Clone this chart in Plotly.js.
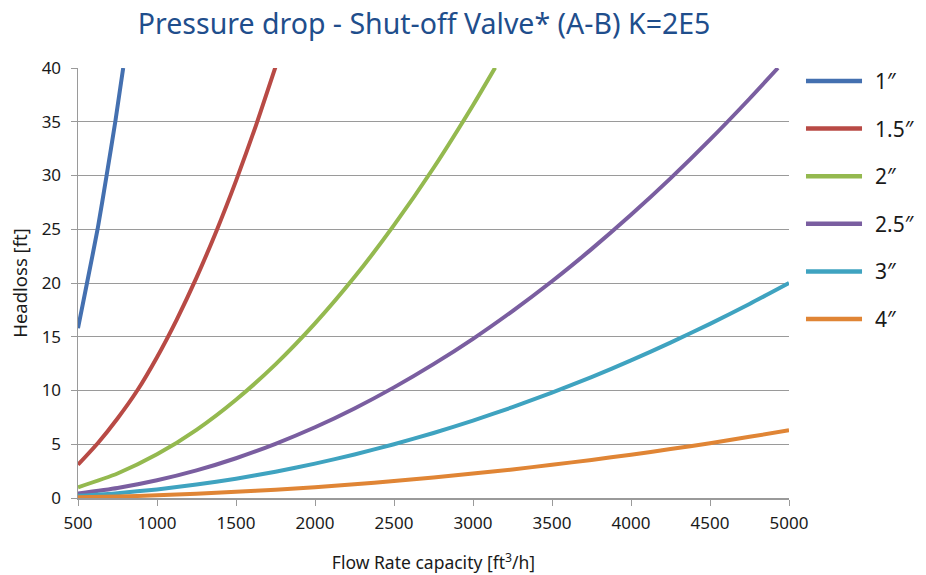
<!DOCTYPE html>
<html>
<head>
<meta charset="utf-8">
<script src="https://cdn.plot.ly/plotly-3.0.1.min.js"></script>
<style>html,body{margin:0;padding:0;background:#fff;}#chart{width:926px;height:575px;}</style>
</head>
<body>
<div id="chart"></div>
<script>
// Series names
const seriesNames = ['1″', '1.5″', '2″', '2.5″', '3″', '4″'];

// Flow rate (x) values per series [ft3/h]
const x_1in   = [500, 557, 624, 681, 736, 786];
const x_15in  = [500, 625, 750, 875, 1000, 1125, 1250, 1375, 1500, 1625, 1750];
const x_2in   = [500, 750, 1000, 1250, 1500, 1750, 2000, 2250, 2500, 2750, 3000, 3140];
const x_25in  = [500, 750, 1000, 1250, 1500, 1750, 2000, 2250, 2500, 2750, 3000, 3250, 3500, 3750, 4000, 4250, 4500, 4750, 4930];
const x_3in   = [500, 750, 1000, 1250, 1500, 1750, 2000, 2250, 2500, 2750, 3000, 3250, 3500, 3750, 4000, 4250, 4500, 4750, 5000];
const x_4in   = [500, 750, 1000, 1250, 1500, 1750, 2000, 2250, 2500, 2750, 3000, 3250, 3500, 3750, 4000, 4250, 4500, 4750, 5000];

// Headloss (y) values per series [ft]
const y_1in   = [15.8, 20, 25, 30, 35, 40];
const y_15in  = [3.1, 5.1, 7.4, 10.0, 13.1, 16.6, 20.5, 24.8, 29.5, 34.6, 40.1];
const y_2in   = [1.0, 2.28, 4.06, 6.34, 9.14, 12.43, 16.24, 20.55, 25.38, 30.7, 36.54, 40.03];
const y_25in  = [0.41, 0.93, 1.65, 2.57, 3.7, 5.04, 6.58, 8.33, 10.29, 12.45, 14.81, 17.39, 20.16, 23.15, 26.34, 29.73, 33.33, 37.14, 40.0];
const y_3in   = [0.2, 0.45, 0.8, 1.25, 1.8, 2.45, 3.2, 4.05, 5.0, 6.05, 7.2, 8.45, 9.8, 11.25, 12.8, 14.45, 16.2, 18.05, 20.0];
const y_4in   = [0.06, 0.14, 0.25, 0.39, 0.57, 0.77, 1.01, 1.28, 1.58, 1.91, 2.27, 2.66, 3.09, 3.54, 4.03, 4.55, 5.1, 5.69, 6.3];

// Axis ticks
const xTicks = [500, 1000, 1500, 2000, 2500, 3000, 3500, 4000, 4500, 5000];
const yTicks = [0, 5, 10, 15, 20, 25, 30, 35, 40];

const colors = ['#4470B0', '#B84A45', '#94B94F', '#7A5EA0', '#3FA3C0', '#E08535'];

const xs = [x_1in, x_15in, x_2in, x_25in, x_3in, x_4in];
const ys = [y_1in, y_15in, y_2in, y_25in, y_3in, y_4in];

const FONT = 'Noto Sans, Open Sans, sans-serif';

const traces = seriesNames.map((name, i) => ({
  type: 'scatter',
  mode: 'lines',
  name: name,
  x: xs[i],
  y: ys[i],
  showlegend: false,
  line: {color: colors[i], width: 4, shape: 'spline', smoothing: 0.6}
}));

// Legend drawn in paper coordinates (styling only)
const legTop = 0.9698, legStep = 0.1107;
const shapes = [], annotations = [];
seriesNames.forEach((name, i) => {
  const yy = legTop - i * legStep;
  shapes.push({type: 'line', xref: 'paper', yref: 'paper', x0: 1.0239, x1: 1.1027, y0: yy, y1: yy,
               line: {color: colors[i], width: 4.5}});
  annotations.push({xref: 'paper', yref: 'paper', x: 1.118, y: yy, xanchor: 'left', yanchor: 'middle',
                    text: name, showarrow: false, font: {family: FONT, size: 21, color: '#1a1a1a'}});
});

const axisCommon = {
  gridcolor: '#9a9a9a',
  gridwidth: 1,
  showline: true,
  linecolor: '#9a9a9a',
  linewidth: 1.5,
  ticks: 'outside',
  ticklen: 6,
  tickcolor: '#9a9a9a',
  tickfont: {family: FONT, size: 17, color: '#1a1a1a'},
  zeroline: false,
  fixedrange: true
};

const layout = {
  width: 926,
  height: 575,
  margin: {l: 78, r: 137, t: 68, b: 77},
  paper_bgcolor: '#ffffff',
  plot_bgcolor: '#ffffff',
  title: {
    text: 'Pressure drop - Shut-off Valve* (A-B) K=2E5',
    font: {family: FONT, size: 28.5, color: '#1F4E8C'},
    x: 0.458, xanchor: 'center', y: 0.958, yanchor: 'middle'
  },
  xaxis: Object.assign({}, axisCommon, {
    showgrid: false,
    range: [500, 5000],
    tickvals: xTicks,
    ticklabelstandoff: 3,
    title: {text: 'Flow Rate capacity [ft<sup>3</sup>/h]', font: {family: FONT, size: 17.5, color: '#1a1a1a'}, standoff: 24}
  }),
  yaxis: Object.assign({}, axisCommon, {
    showgrid: true,
    range: [0, 40],
    tickvals: yTicks,
    ticklabelstandoff: 6,
    title: {text: 'Headloss [ft]', font: {family: FONT, size: 18.5, color: '#1a1a1a'}, standoff: 9}
  }),
  shapes: shapes,
  annotations: annotations,
  showlegend: false
};

Plotly.newPlot('chart', traces, layout, {displayModeBar: false, staticPlot: true});
</script>
</body>
</html>
